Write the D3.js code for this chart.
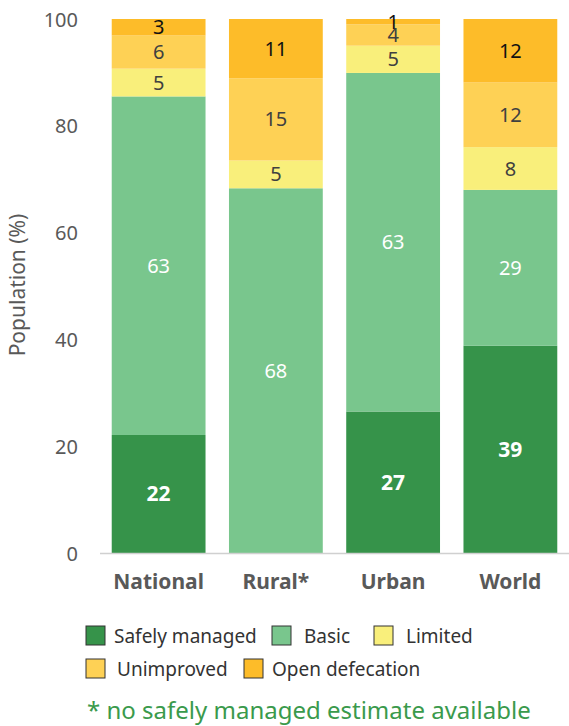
<!DOCTYPE html>
<html>
<head>
<meta charset="utf-8">
<script src="https://cdn.jsdelivr.net/npm/d3@7"></script>
<style>
  body { margin: 0; background: #fff; }
  text { font-family: "Noto Sans", "Open Sans", sans-serif; }
</style>
</head>
<body>
<div id="chart-area"></div>
<script>
const categories = ["National", "Rural*", "Urban", "World"]
const seriesNames = ["Safely managed", "Basic", "Limited", "Unimproved", "Open defecation"]
const safelyManaged = [22.1, 0, 26.5, 38.8]
const basic = [63.4, 68.3, 63.4, 29.2]
const limited = [5.2, 5.2, 5.1, 8.0]
const unimproved = [6.2, 15.4, 4.0, 12.1]
const openDefecation = [3.1, 11.1, 1.0, 11.9]
const yTicks = [0, 20, 40, 60, 80, 100]

const COLORS = ["#36934a", "#79c68d", "#f9ef7b", "#fed155", "#fdbc29"]
const LABEL_COLORS = ["#ffffff", "#ffffff", "#404040", "#404040", "#111111"]

const W = 569, H = 726

const svg = d3.select("#chart-area").append("svg")
  .attr("width", W)
  .attr("height", H)

const seriesValues = [safelyManaged, basic, limited, unimproved, openDefecation]
const table = categories.map((c, i) => {
  const row = { cat: c }
  seriesNames.forEach((s, j) => { row[s] = seriesValues[j][i] })
  return row
})
const stacked = d3.stack().keys(seriesNames)(table)

const x = d3.scaleBand()
  .domain(categories)
  .range([100, 569])
  .paddingInner(0.2)
  .paddingOuter(0.1)

const y = d3.scaleLinear()
  .domain([0, 100])
  .range([553, 19])

// y tick labels
svg.append("g")
  .attr("transform", "translate(78, 0)")
  .call(d3.axisLeft(y).tickValues(yTicks).tickSize(0).tickPadding(0))
  .call(g => g.select(".domain").remove())
  .selectAll("text")
    .attr("fill", "#595959")
    .style("font-size", "20px")
    .attr("dy", "0.35em")

// Y label
svg.append("text")
  .attr("transform", "rotate(-90)")
  .attr("x", -285)
  .attr("y", 25)
  .attr("text-anchor", "middle")
  .attr("fill", "#595959")
  .style("font-size", "21px")
  .text("Population (%)")

// bars
const layers = svg.selectAll("g.layer")
  .data(stacked)
  .enter().append("g")
    .attr("class", "layer")
    .attr("fill", (d, i) => COLORS[i])

layers.selectAll("rect")
  .data(d => d)
  .enter().append("rect")
    .attr("x", d => x(d.data.cat))
    .attr("y", d => y(d[1]))
    .attr("width", x.bandwidth())
    .attr("height", d => y(d[0]) - y(d[1]))

// value labels
stacked.forEach((layer, i) => {
  svg.append("g").selectAll("text")
    .data(layer.filter(d => d[1] - d[0] > 0))
    .enter().append("text")
      .attr("x", d => x(d.data.cat) + x.bandwidth() / 2)
      .attr("y", d => y((d[0] + d[1]) / 2))
      .attr("dy", "0.35em")
      .attr("text-anchor", "middle")
      .attr("fill", LABEL_COLORS[i])
      .style("font-size", i === 0 ? "21px" : "20px")
      .style("font-weight", i === 0 ? "bold" : "normal")
      .text(d => Math.round(d[1] - d[0]))
})

// x axis line
svg.append("line")
  .attr("x1", 100).attr("x2", 569)
  .attr("y1", 553.5).attr("y2", 553.5)
  .attr("stroke", "#d0d0d0")
  .attr("stroke-width", 1.5)

// category labels
svg.append("g").selectAll("text")
  .data(categories)
  .enter().append("text")
    .attr("x", d => x(d) + x.bandwidth() / 2)
    .attr("y", 589)
    .attr("text-anchor", "middle")
    .attr("fill", "#595959")
    .style("font-size", "21px")
    .style("font-weight", "bold")
    .text(d => d)

// legend
const legendPos = [
  { x: 86, y: 626, tx: 114 },
  { x: 272, y: 626, tx: 304 },
  { x: 374, y: 626, tx: 406 },
  { x: 86, y: 659, tx: 117 },
  { x: 244, y: 659, tx: 272 }
]
const legend = svg.append("g").selectAll("g")
  .data(seriesNames)
  .enter().append("g")
    .attr("transform", (d, i) => `translate(${legendPos[i].x}, ${legendPos[i].y})`)

legend.append("rect")
  .attr("width", 19)
  .attr("height", 19)
  .attr("fill", (d, i) => COLORS[i])
  .attr("stroke", "#333")
  .attr("stroke-width", 1)

legend.append("text")
  .attr("x", (d, i) => legendPos[i].tx - legendPos[i].x)
  .attr("y", 10)
  .attr("dy", "0.35em")
  .attr("fill", "#333")
  .style("font-size", "19px")
  .text(d => d)

// footnote
svg.append("text")
  .attr("x", 87)
  .attr("y", 719)
  .attr("fill", "#3a9a4c")
  .style("font-size", "24px")
  .text("* no safely managed estimate available")
</script>
</body>
</html>
